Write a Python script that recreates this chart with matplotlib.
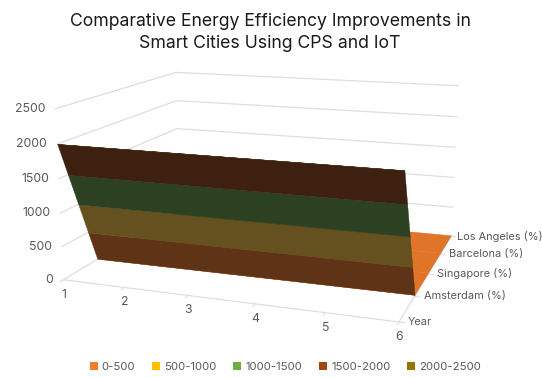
import numpy as np
import matplotlib
matplotlib.use("Agg")
import matplotlib.pyplot as plt
from matplotlib.patches import Patch
from mpl_toolkits.mplot3d import proj3d
from mpl_toolkits.mplot3d.art3d import Poly3DCollection

plt.rcParams['font.family'] = ['Inter', 'DejaVu Sans']

# chart data
years = [1, 2, 3, 4, 5, 6]
series_names = ['Year', 'Amsterdam (%)', 'Singapore (%)', 'Barcelona (%)', 'Los Angeles (%)']
year_row = [2000, 2000, 2000, 2000, 2000, 2000]
amsterdam = [10, 12, 15, 18, 20, 22]
singapore = [8, 11, 14, 17, 19, 21]
barcelona = [9, 12, 14, 16, 18, 20]
los_angeles = [7, 10, 13, 15, 17, 19]

band_edges = [0, 500, 1000, 1500, 2000, 2500]
band_labels = ['0-500', '500-1000', '1000-1500', '1500-2000', '2000-2500']
band_colors = ['#ED7D31', '#FFC000', '#70AD47', '#9E480E', '#997300']
steep_colors = ['#5f3316', '#655020', '#2c4121', '#3d2010', '#3d2e0c']
flat_colors = ['#e07428', '#f0b400', '#6aa343', '#954409', '#906c00']
z_ticks = [0, 500, 1000, 1500, 2000, 2500]
depth_label_dx = [9, 10, 9, 9, 6]

GRID = '#dedede'
TEXT = '#595959'
W, H = 542, 378

# world point (year, series index, value) -> pixel in the reference
camera_anchors = [
    ((1, 0, 0), (64, 280)), ((1, 0, 2500), (55, 109)), ((1, 0, 2000), (57, 143)),
    ((6, 0, 0), (398, 323)), ((6, 0, 2000), (404, 171)),
    ((1, 4, 0), (177, 212)), ((1, 4, 2500), (177, 72)),
    ((6, 4, 0), (450, 235)), ((6, 4, 2500), (458, 86)),
    ((1, 1, 0), (98, 258)), ((6, 1, 0), (414, 296)),
    ((6, 2, 0), (430, 274)), ((6, 3, 0), (441, 254)),
]


def fit_projection(ax):
    # excel's perspective isn't reachable with view_init, so solve the camera
    to_data = ax.transData.inverted()
    rows, rhs = [], []
    for (x, d, z), (px, py) in camera_anchors:
        u, v = to_data.transform((px, H - py))
        z = z / 500
        rows.append([x, d, z, 1, 0, 0, 0, 0, -u * x, -u * d, -u * z])
        rows.append([0, 0, 0, 0, x, d, z, 1, -v * x, -v * d, -v * z])
        rhs += [u, v]
    p = np.linalg.lstsq(np.array(rows), np.array(rhs), rcond=None)[0]
    # third row is only depth, must stay negative or Line3D masks the points
    m = np.array([
        [p[0], p[1], p[2] / 500, p[3]],
        [p[4], p[5], p[6] / 500, p[7]],
        [0, 0.02, 0, -1],
        [p[8], p[9], p[10] / 500, 1],
    ])
    return m


def clip_band(poly, lo, hi):
    # keep the part of a polygon with lo <= z <= hi
    for limit, sign in ((lo, 1), (hi, -1)):
        out = []
        for i in range(len(poly)):
            a, b = poly[i], poly[(i + 1) % len(poly)]
            da, db = sign * (a[2] - limit), sign * (b[2] - limit)
            if da >= 0:
                out.append(a)
            if da * db < 0:
                t = da / (da - db)
                out.append(tuple(a[k] + t * (b[k] - a[k]) for k in range(3)))
        poly = out
        if not poly:
            return []
    return poly


fig = plt.figure(figsize=(W / 100, H / 100), dpi=100)
# axes3d forces a square box, so make the square cover the whole figure
ax = fig.add_axes([0, -(W - H) / 2 / H, 1, W / H], projection='3d')
ax.apply_aspect()
ax.set_axis_off()
ax.computed_zorder = False
M = fit_projection(ax)
ax.get_proj = lambda: M


def label_at(x, d, z, text, dx, dy, size=7.9, **kw):
    u, v, _ = proj3d.proj_transform(x, d, z, M)
    ax.annotate(text, (u, v), xytext=(dx, dy), textcoords='offset pixels',
                color=TEXT, fontsize=size, annotation_clip=False, **kw)


surface = np.array([year_row, amsterdam, singapore, barcelona, los_angeles], dtype=float)
n_depth = len(series_names)

# gridlines on the side and back walls
for z in z_ticks:
    ax.plot([1, 1, 6], [0, n_depth - 1, n_depth - 1], [z, z, z], color=GRID, lw=0.9, zorder=1)
    label_at(1, 0, z, str(z), -10, 0, size=8.8, ha='right', va='center')

# floor edges and tick marks
ax.plot([1, 6, 6], [0, 0, n_depth - 1], [0, 0, 0], color=GRID, lw=0.9, zorder=1)
for x in years:
    ax.plot([x, x], [0, -0.1], [0, 0], color=GRID, lw=0.8, zorder=1)
    label_at(x, 0, 0, str(x), 0, -15, size=8.8, ha='center', va='center')
for d, name in enumerate(series_names):
    ax.plot([6, 6.08], [d, d], [0, 0], color=GRID, lw=0.8, zorder=1)
    label_at(6, d, 0, name, depth_label_dx[d], 0, ha='left', va='center')

# surface, back rows first, split into value bands
for d in range(n_depth - 2, -1, -1):
    row = [(x, d, surface[d, i]) for i, x in enumerate(years)]
    row += [(x, d + 1, surface[d + 1, i]) for i, x in reversed(list(enumerate(years)))]
    zs = [r[2] for r in row]
    palette = steep_colors if max(zs) - min(zs) > 500 else flat_colors
    for b, color in enumerate(palette):
        part = clip_band(row, band_edges[b], band_edges[b + 1])
        if len(part) < 3:
            continue
        ax.add_collection3d(Poly3DCollection([part], facecolors=color, edgecolors=color,
                                             linewidths=0.3, zorder=10 + n_depth - d))

fig.text(270 / W, 1 - 21 / H, 'Comparative Energy Efficiency Improvements in',
         ha='center', va='center', fontsize=12.7, color='#1a1a1a')
fig.text(270 / W, 1 - 43 / H, 'Smart Cities Using CPS and IoT',
         ha='center', va='center', fontsize=12.7, color='#1a1a1a')

handles = [Patch(facecolor=c, label=l) for c, l in zip(band_colors, band_labels)]
fig.legend(handles=handles, loc='center', bbox_to_anchor=(285.5 / W, 1 - 367 / H), ncols=5,
           frameon=False, fontsize=8.2, handlelength=0.7, handleheight=0.7,
           handletextpad=0.35, columnspacing=1.48, labelcolor=TEXT)

fig.savefig('out.png', dpi=100)
